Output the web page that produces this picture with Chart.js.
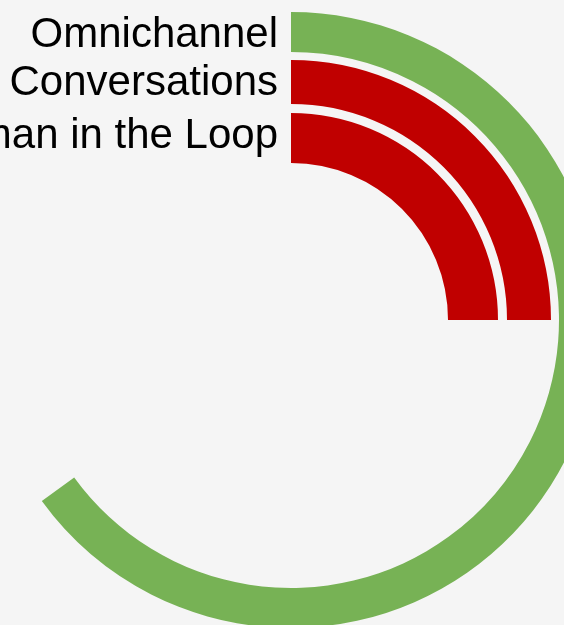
<!DOCTYPE html>
<html>
<head>
<meta charset="utf-8">
<script src="https://cdn.jsdelivr.net/npm/chart.js@4"></script>
<style>
  html, body { margin: 0; padding: 0; width: 564px; height: 625px; overflow: hidden; background: #f5f5f5; }
  #wrap { position: absolute; left: -300px; top: 12px; width: 1182px; height: 616px; }
</style>
</head>
<body>
<div id="wrap"><canvas id="c" width="1182" height="616"></canvas></div>
<script>
const categories = ['Omnichannel', 'Conversations', 'Human in the Loop'];
const values = [65, 25, 25];
const maxValue = 100;
const barColors = ['#77b255', '#c00000', '#c00000'];
const ringWeights = [40, 44, 50];
const gapWeights = [8, 9];

const datasets = [];
categories.forEach((cat, i) => {
  datasets.push({
    label: cat,
    data: [values[i], maxValue - values[i]],
    backgroundColor: [barColors[i], 'rgba(0,0,0,0)'],
    borderWidth: 0,
    hoverBorderWidth: 0,
    weight: ringWeights[i],
    isBar: true
  });
  if (i < gapWeights.length) {
    datasets.push({
      label: '',
      data: [maxValue],
      backgroundColor: ['rgba(0,0,0,0)'],
      borderWidth: 0,
      hoverBorderWidth: 0,
      weight: gapWeights[i],
      isBar: false
    });
  }
});

const labelPlugin = {
  id: 'ringLabels',
  afterDatasetsDraw(chart) {
    const ctx = chart.ctx;
    ctx.save();
    ctx.font = '42px "Liberation Sans", Arial, Helvetica, sans-serif';
    ctx.fillStyle = '#000';
    ctx.textAlign = 'right';
    ctx.textBaseline = 'alphabetic';
    chart.data.datasets.forEach((ds, di) => {
      if (!ds.isBar) return;
      const arc = chart.getDatasetMeta(di).data[0];
      ctx.fillText(ds.label, arc.x - 13, arc.y - arc.outerRadius + 35);
    });
    ctx.restore();
  }
};

new Chart(document.getElementById('c'), {
  type: 'doughnut',
  data: { labels: ['value', 'rest'], datasets },
  options: {
    responsive: false,
    maintainAspectRatio: false,
    animation: false,
    cutout: 157,
    layout: { padding: 0 },
    events: [],
    plugins: { legend: { display: false }, tooltip: { enabled: false } }
  },
  plugins: [labelPlugin]
});
</script>
</body>
</html>
